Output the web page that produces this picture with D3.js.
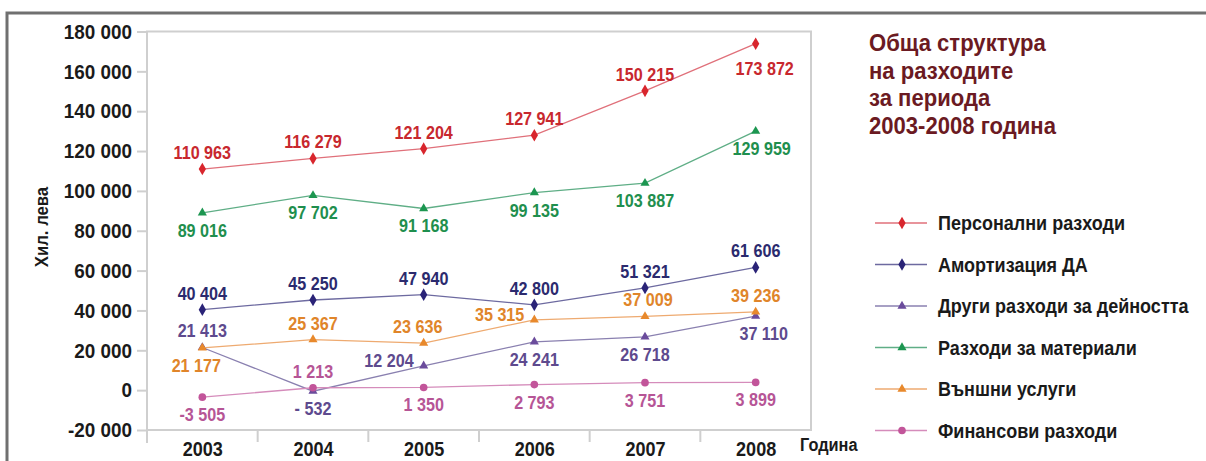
<!DOCTYPE html>
<html lang="bg">
  <head>
    <meta charset="UTF-8" />
    <script src="https://d3js.org/d3.v7.min.js"></script>
    <title>Обща структура на разходите</title>
    <style>
      body { margin: 0; background: #fff; }
      text { font-family: "Liberation Sans", Arial, sans-serif; font-weight: bold; }
    </style>
  </head>
  <body>
    <script>
      // data
      const years = ["2003", "2004", "2005", "2006", "2007", "2008"];
      const personnel = [110963, 116279, 121204, 127941, 150215, 173872];
      const depreciation = [40404, 45250, 47940, 42800, 51321, 61606];
      const otherOps = [21413, -532, 12204, 24241, 26718, 37110];
      const materials = [89016, 97702, 91168, 99135, 103887, 129959];
      const services = [21177, 25367, 23636, 35315, 37009, 39236];
      const financial = [-3505, 1213, 1350, 2793, 3751, 3899];
      const yTicks = [-20000, 0, 20000, 40000, 60000, 80000, 100000, 120000, 140000, 160000, 180000];

      const titleLines = ["Обща структура", "на разходите", "за периода", "2003-2008 година"];

      // label placement: t = above, b = below, l = left; trailing number = x shift
      const series = [
        { name: "Персонални разходи", values: personnel, color: "#d8262d", line: "#e0707a", text: "#c8282e", sym: d3.symbolDiamond, size: 46,
          pos: ["t", "t", "t", "t", "t", "b9"] },
        { name: "Амортизация ДА", values: depreciation, color: "#2a2377", line: "#6d6aa0", text: "#2b2a6e", sym: d3.symbolDiamond, size: 46,
          pos: ["t", "t", "t", "t", "t", "t"] },
        { name: "Други разходи за дейността", values: otherOps, color: "#6b4c9c", line: "#8a80b0", text: "#5e4a8e", sym: d3.symbolTriangle, size: 36,
          pos: ["t", "b", "l", "b", "b", "b8"] },
        { name: "Разходи за материали", values: materials, color: "#1c9650", line: "#5fae86", text: "#1f8f4e", sym: d3.symbolTriangle, size: 36,
          pos: ["b", "b", "b", "b", "b", "b6"] },
        { name: "Външни услуги", values: services, color: "#e8892c", line: "#eeaa70", text: "#e0852a", sym: d3.symbolTriangle, size: 36,
          pos: ["b-6", "t", "t-6", "l", "t3", "t"] },
        { name: "Финансови разходи", values: financial, color: "#c2559a", line: "#d58cbb", text: "#b65596", sym: d3.symbolCircle, size: 46,
          pos: ["b", "t", "b", "b", "b", "b"] }
      ];

      const W = 1206, H = 461;
      const mLeft = 147, mRight = 811, mTop = 31.5, mBottom = 430;

      const svg = d3.select("body").append("svg").attr("width", W).attr("height", H);

      // outer frame (top and left only)
      svg.append("path")
        .attr("d", `M7,${H} V13 H${W}`)
        .attr("fill", "none").attr("stroke", "#707070").attr("stroke-width", 3);

      const x = d3.scalePoint().domain(years).range([mLeft, mRight]).padding(0.5);
      const xb = d3.scaleBand().domain(years).range([mLeft, mRight]);
      const y = d3.scaleLinear().domain([-20000, 180000]).range([mBottom, mTop]);
      const fmt = (d) => d3.format(",")(d).replace(/,/g, " ").replace("−", "-");

      // plot frame
      svg.append("rect")
        .attr("x", mLeft).attr("y", mTop).attr("width", mRight - mLeft).attr("height", mBottom - mTop)
        .attr("fill", "none").attr("stroke", "#cfcfcf").attr("stroke-width", 2);
      svg.append("line")
        .attr("x1", mLeft).attr("x2", mLeft).attr("y1", mTop).attr("y2", 443)
        .attr("stroke", "#cfcfcf").attr("stroke-width", 2);

      // y axis
      const ya = svg.append("g").attr("transform", `translate(${mLeft},0)`)
        .call(d3.axisLeft(y).tickValues(yTicks).tickFormat(fmt).tickSize(10).tickPadding(5));
      ya.select(".domain").remove();
      ya.selectAll(".tick line").attr("stroke", "#cfcfcf").attr("stroke-width", 2);
      ya.selectAll(".tick text").attr("font-size", 21).attr("fill", "#1a1a1a")
        .attr("font-family", null).attr("x", -15 / 0.9).attr("transform", "scale(0.9,1)");

      // x axis separators and labels
      svg.append("g").selectAll("line")
        .data(years.slice(1))
        .join("line")
        .attr("x1", (d) => xb(d)).attr("x2", (d) => xb(d))
        .attr("y1", mBottom).attr("y2", 442)
        .attr("stroke", "#cfcfcf").attr("stroke-width", 2);
      const xa = svg.append("g").attr("transform", `translate(0,${mBottom})`)
        .call(d3.axisBottom(x).tickSize(0).tickPadding(11));
      xa.select(".domain").remove();
      xa.selectAll(".tick text").attr("font-size", 21).attr("fill", "#1a1a1a")
        .attr("font-family", null).attr("transform", "scale(0.86,1)");

      svg.append("text").attr("transform", "translate(800,451) scale(0.86,1)")
        .attr("font-size", 19).attr("fill", "#1a1a1a").text("Година");

      svg.append("text")
        .attr("transform", "translate(48,227) rotate(-90) scale(0.88,1)")
        .attr("text-anchor", "middle").attr("font-size", 19).attr("fill", "#1a1a1a")
        .text("Хил. лева");

      // lines, markers, labels
      const line = d3.line().x((d, i) => x(years[i])).y((d) => y(d));
      series.forEach((s) => {
        const g = svg.append("g");
        g.append("path").attr("d", line(s.values))
          .attr("fill", "none").attr("stroke", s.line).attr("stroke-width", 1.3);
        g.selectAll("path.m").data(s.values).join("path").attr("class", "m")
          .attr("transform", (d, i) => `translate(${x(years[i])},${y(d)})`)
          .attr("d", d3.symbol().type(s.sym).size(s.size))
          .attr("fill", s.color);
        g.selectAll("text").data(s.values).join("text")
          .attr("transform", (d, i) => {
            const p = s.pos[i];
            const shift = p.length > 1 ? +p.slice(1) : 0;
            let lx = x(years[i]) + shift, ly = y(d) + 1;
            if (p[0] === "l") lx = x(years[i]) - 10;
            if (p[0] === "t") ly = y(d) - 10;
            if (p[0] === "b") ly = y(d) + (i === 5 && s.values === personnel ? 31 : 24);
            return `translate(${lx},${ly}) scale(0.85,1)`;
          })
          .attr("text-anchor", (d, i) => (s.pos[i][0] === "l" ? "end" : "middle"))
          .attr("font-size", 19).attr("fill", s.text)
          .text((d) => (d === -532 ? "- 532" : fmt(d)));
      });

      // title
      svg.append("g").selectAll("text").data(titleLines).join("text")
        .attr("transform", (d, i) => `translate(869,${51 + i * 27.5}) scale(0.92,1)`)
        .attr("font-size", 24).attr("fill", "#6b1a22").text((d) => d);

      // legend
      const lg = svg.append("g").selectAll("g").data(series).join("g")
        .attr("transform", (d, i) => `translate(0,${223 + i * 41.5})`);
      lg.append("line").attr("x1", 875).attr("x2", 927)
        .attr("stroke", (d) => d.line).attr("stroke-width", 1.3);
      lg.append("path").attr("transform", "translate(902,0)")
        .attr("d", (d) => d3.symbol().type(d.sym).size(d.size)())
        .attr("fill", (d) => d.color);
      lg.append("text").attr("transform", "translate(938,7) scale(0.9,1)")
        .attr("font-size", 20).attr("fill", "#1a1a1a").text((d) => d.name);
    </script>
  </body>
</html>
